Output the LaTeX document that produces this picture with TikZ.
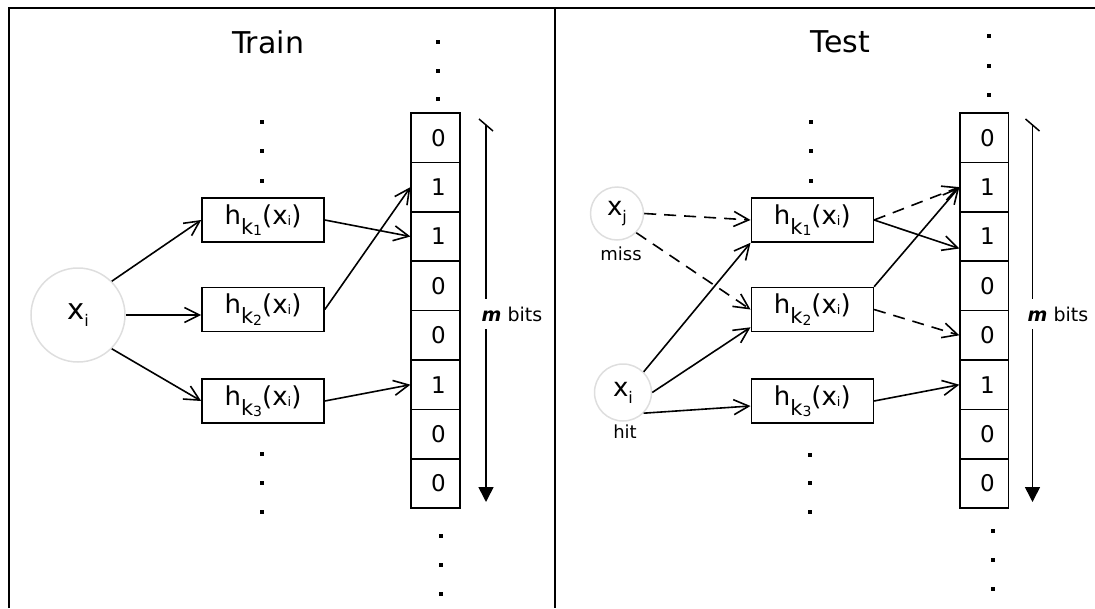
\documentclass[tikz,border=0pt]{standalone}
\usepackage{fontspec}
\setmainfont{DejaVu Sans}
\usetikzlibrary{arrows.meta,positioning}

\newcommand{\setfs}[1]{\fontsize{#1}{#1}\selectfont}
% hash function label h_{k_n}(x_i)
\newcommand{\hk}[1]{h\raisebox{-10pt}{\setfs{21}k\raisebox{-1.5pt}{\setfs{14}#1}}(x\raisebox{-1pt}{\setfs{13}i})}
% element label x_n
\newcommand{\xs}[1]{x\raisebox{-7pt}{\setfs{16}#1}}

\begin{document}
\begin{tikzpicture}[x=1pt,y=-1pt,
  hash/.style={draw,rectangle,minimum width=122pt,minimum height=44pt,inner sep=0pt,line width=1.6pt,font=\setfs{26}},
  bit/.style={draw,rectangle,minimum width=48.5pt,minimum height=49.4pt,inner sep=0pt,line width=1.6pt,font=\setfs{23}},
  key/.style={draw=black!13,circle,line width=1.5pt,inner sep=0pt,font=\setfs{26}},
  arr/.style={-{Straight Barb[length=15pt,width=15pt]},line width=1.6pt},
  miss/.style={arr,dash pattern=on 12pt off 8pt},
  note/.style={font=\setfs{18}},
  mbits/.style={fill=white,inner xsep=1pt,inner ysep=8pt,font=\setfs{19}},
  span/.style={-{Triangle[length=15pt,width=15pt]},line width=1.6pt}]

\useasboundingbox (0,0) rectangle (1095,608);
% frame
\draw[line width=2.8pt] (9,608) -- (9,8) -- (1095,8);
\draw[line width=2.8pt] (555,8) -- (555,608);

% ---- train ----
\node[font=\setfs{30}] (train) at (268,42) {Train};
\node[key,minimum size=94pt,font=\setfs{29}] (xi) at (78,315) {\xs{i}};
\node[hash] (hk1) at (263,220) {\hk{1}};
\node[hash] (hk2) at (263,309.5) {\hk{2}};
\node[hash] (hk3) at (263,401) {\hk{3}};
\foreach \b [count=\n from 0] in {0,1,1,0,0,1,0,0}
  \node[bit] (a\n) at (435.5,137.7+49.4*\n) {\hspace{6pt}\b};

\draw[arr] (xi.45) -- (hk1.west);
\draw[arr] (xi.east) -- (xi.east -| hk2.west);
\draw[arr] (xi.-45) -- (hk3.west);
\draw[arr] (hk1.east) -- (a2.west);
\draw[arr] (hk2.east) -- (a1.west);
\draw[arr] (hk3.east) -- (a5.west);

\coordinate (ta) at (486,125);
\coordinate (ba) at (486,502);
\draw[span] (ta) -- (ba);
\draw[line width=1.5pt] ([shift={(-7pt,6pt)}]ta) -- ([shift={(7pt,-6pt)}]ta);
\node[mbits] (ma) at (512,314) {\textbf{\textit{m}} bits};

\foreach \x/\y in {262/122,262/151,262/181,262/454,262/483,262/512,
                   438/42,438/71,438/99,441/536,441/565,441/594}
  \fill (\x-2,\y-2) rectangle ++(4,4);

% ---- test ----
\node[font=\setfs{30}] (test) at (840.5,42) {Test};
\node[key,minimum size=53pt] (xj) at (617,213.5) {\xs{j}};
\node[key,minimum size=57pt] (xi2) at (623,392.5) {\xs{i}};
\node[note,below=3pt of xj,xshift=4pt] (misslbl) {miss};
\node[note,below=0pt of xi2,xshift=2pt] (hitlbl) {hit};
\node[hash] (hr1) at (812.3,220) {\hk{1}};
\node[hash] (hr2) at (812.3,309.5) {\hk{2}};
\node[hash] (hr3) at (812.3,401) {\hk{3}};
\foreach \b [count=\n from 0] in {0,1,1,0,0,1,0,0}
  \node[bit] (b\n) at (984.4,137.7+49.4*\n) {\hspace{6pt}\b};

\draw[miss] (xj.east) -- (hr1.west);
\draw[miss] (xj.-45) -- (hr2.west);
\draw[arr] (xi2.45) -- (hr1.south west);
\draw[arr] (xi2.east) -- ([yshift=5pt]hr2.south west);
\draw[arr] (xi2.-45) -- ([yshift=-5pt]hr3.west);
\draw[miss] (hr1.east) -- (b1.west);
\draw[arr] (hr1.east) -- ([yshift=-12pt]b2.west);
\draw[arr] (hr2.north east) -- (b1.west);
\draw[miss] (hr2.east) -- (b4.west);
\draw[arr] (hr3.east) -- (b5.west);

\coordinate (tb) at (1032.5,125);
\coordinate (bb) at (1032.5,502);
\draw[span] (tb) -- (bb);
\draw[line width=1.5pt] ([shift={(-7pt,6pt)}]tb) -- ([shift={(7pt,-6pt)}]tb);
\node[mbits] (mb) at (1058,314) {\textbf{\textit{m}} bits};

\foreach \x/\y in {811/122,811/151,811/181,810/455,810/483,810/512,
                   989/36,989/66,989/95,993/531,993/560,993/589}
  \fill (\x-2,\y-2) rectangle ++(4,4);
\end{tikzpicture}
\end{document}
